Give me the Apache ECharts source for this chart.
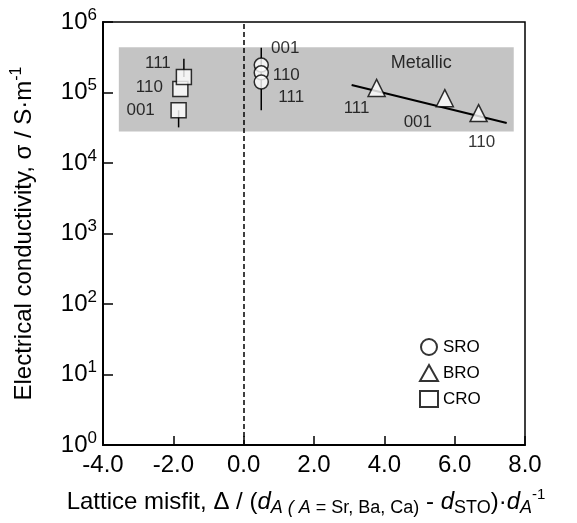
<!DOCTYPE html>
<html>
<head>
<meta charset="utf-8">
<title>ECharts</title>
<script src="https://cdn.jsdelivr.net/npm/echarts@6/dist/echarts.min.js"></script>
</head>
<body style="margin:0;background:#fff">
<div id="main" style="width:577px;height:523px;"></div>
<script type="text/javascript">
// x ticks
var xTicks = [-4, -2, 0, 2, 4, 6, 8];
// SRO, BRO, CRO points: [misfit, conductivity, orientation]
var sroData = [[0.5, 2.45e5, '001'], [0.5, 1.9e5, '110'], [0.5, 1.41e5, '111']];
var broData = [[3.78, 1.16e5, '111'], [5.72, 8.3e4, '001'], [6.68, 5.1e4, '110']];
var croData = [[-1.85, 5.6e4, '001'], [-1.8, 1.12e5, '110'], [-1.7, 1.66e5, '111']];
// error bars: [x, low, high]
var errBars = [[0.5, 5.6e4, 4.3e5], [-1.85, 3.2e4, 5.6e4], [-1.7, 1.66e5, 3.0e5]];
// fitted line through BRO
var fitLine = [[3.07, 1.28e5], [7.48, 3.7e4]];
// metallic band
var bandX = [-3.55, 7.68];
var bandY = [2.8e4, 4.4e5];
var metallicPos = [5.05, 2.6e5];

// label offsets per orientation
var sroOff = {'001': [24, -17], '110': [25, 2], '111': [30, 15]};
var broOff = {'111': [-20, 20], '001': [-27, 24], '110': [3, 29]};
var croOff = {'001': [-38, 0], '110': [-31, -2], '111': [-26, -14]};

var font = 'Liberation Sans, Arial, sans-serif';

function pts(arr, off) {
    return arr.map(function (d) {
        return {
            value: [d[0], d[1]],
            label: {show: true, formatter: d[2], offset: off[d[2]], position: 'inside',
                color: '#000', fontSize: 17, fontFamily: font}
        };
    });
}

var myChart = echarts.init(document.getElementById('main'));
var option = {
    animation: false,
    textStyle: {fontFamily: font},
    grid: {left: 103, right: 52, top: 22, bottom: 78, show: true, borderColor: '#000', borderWidth: 1.5},
    legend: {
        orient: 'vertical', left: 414, top: 333, itemGap: 8, itemWidth: 18, itemHeight: 16,
        data: ['SRO', 'BRO', 'CRO'],
        textStyle: {fontSize: 17, color: '#000', fontFamily: font}
    },
    xAxis: {
        type: 'value', min: -4, max: 8, interval: 2,
        axisLine: {onZero: false, lineStyle: {color: '#000', width: 2}},
        axisTick: {inside: true, length: 9, lineStyle: {color: '#000', width: 1.5}},
        splitLine: {show: false},
        axisLabel: {fontSize: 24, color: '#000', margin: 8, formatter: function (v) { return v.toFixed(1); }},
        name: 'Lattice misfit, Δ / ({i|d}{sub|A ( A}{subn| = Sr, Ba, Ca)} - {i|d}{subn|STO})·{i|d}{sub|A}{sup|-1}',
        nameLocation: 'middle', nameGap: 42,
        nameTextStyle: {
            fontSize: 24, color: '#000', padding: [0, 16, 0, 0],
            rich: {
                i: {fontSize: 24, fontStyle: 'italic', color: '#000'},
                sub: {fontSize: 18, fontStyle: 'italic', color: '#000', padding: [12, 0, 0, 0]},
                subn: {fontSize: 18, color: '#000', padding: [12, 0, 0, 0]},
                sup: {fontSize: 15, color: '#000', padding: [0, 0, 14, 0]}
            }
        }
    },
    yAxis: {
        type: 'log', logBase: 10, min: 1, max: 1e6,
        axisLine: {onZero: false, lineStyle: {color: '#000', width: 2}},
        axisTick: {inside: true, length: 10, lineStyle: {color: '#000', width: 1.5}},
        minorTick: {show: false},
        splitLine: {show: false},
        axisLabel: {
            margin: 6, color: '#000',
            formatter: function (v) { return '{b|10}{s|' + Math.round(Math.log10(v)) + '}'; },
            rich: {
                b: {fontSize: 24, color: '#000'},
                s: {fontSize: 17, color: '#000', padding: [0, 0, 14, 0]}
            }
        },
        name: 'Electrical conductivity, σ / S·m{sup|-1}',
        nameLocation: 'middle', nameGap: 64,
        nameTextStyle: {
            fontSize: 24, color: '#000',
            rich: {sup: {fontSize: 16, color: '#000', padding: [0, 0, 14, 0]}}
        }
    },
    series: [
        {
            type: 'line', data: [], silent: true,
            markArea: {
                silent: true,
                itemStyle: {color: '#c4c4c4'},
                data: [[{coord: [bandX[0], bandY[0]]}, {coord: [bandX[1], bandY[1]]}]]
            },
            markLine: {
                silent: true, symbol: 'none', label: {show: false},
                lineStyle: {color: '#000', type: [5, 3], width: 1.5},
                data: [{xAxis: 0}]
            }
        },
        {
            type: 'scatter', data: [metallicPos], symbolSize: 0, silent: true,
            label: {show: true, formatter: 'Metallic', position: 'inside', fontSize: 18, color: '#000', fontFamily: font}
        },
        {
            type: 'line', data: fitLine, symbol: 'none', silent: true,
            lineStyle: {color: '#000', width: 2}
        },
        {
            type: 'custom', silent: true, data: errBars,
            renderItem: function (params, api) {
                var p1 = api.coord([api.value(0), api.value(1)]);
                var p2 = api.coord([api.value(0), api.value(2)]);
                return {type: 'line', shape: {x1: p1[0], y1: p1[1], x2: p2[0], y2: p2[1]},
                    style: {stroke: '#000', lineWidth: 1.5}};
            },
            z: 1
        },
        {
            name: 'SRO', type: 'scatter', symbol: 'circle', symbolSize: 14, z: 3,
            itemStyle: {color: '#fff', borderColor: '#000', borderWidth: 1.5},
            data: pts(sroData, sroOff)
        },
        {
            name: 'BRO', type: 'scatter', symbol: 'triangle', symbolSize: 17, z: 3,
            itemStyle: {color: '#fff', borderColor: '#000', borderWidth: 1.5},
            data: pts(broData, broOff)
        },
        {
            name: 'CRO', type: 'scatter', symbol: 'rect', symbolSize: 15, z: 3,
            itemStyle: {color: '#fff', borderColor: '#000', borderWidth: 1.5},
            data: pts(croData, croOff)
        }
    ]
};
myChart.setOption(option);
</script>
</body>
</html>
